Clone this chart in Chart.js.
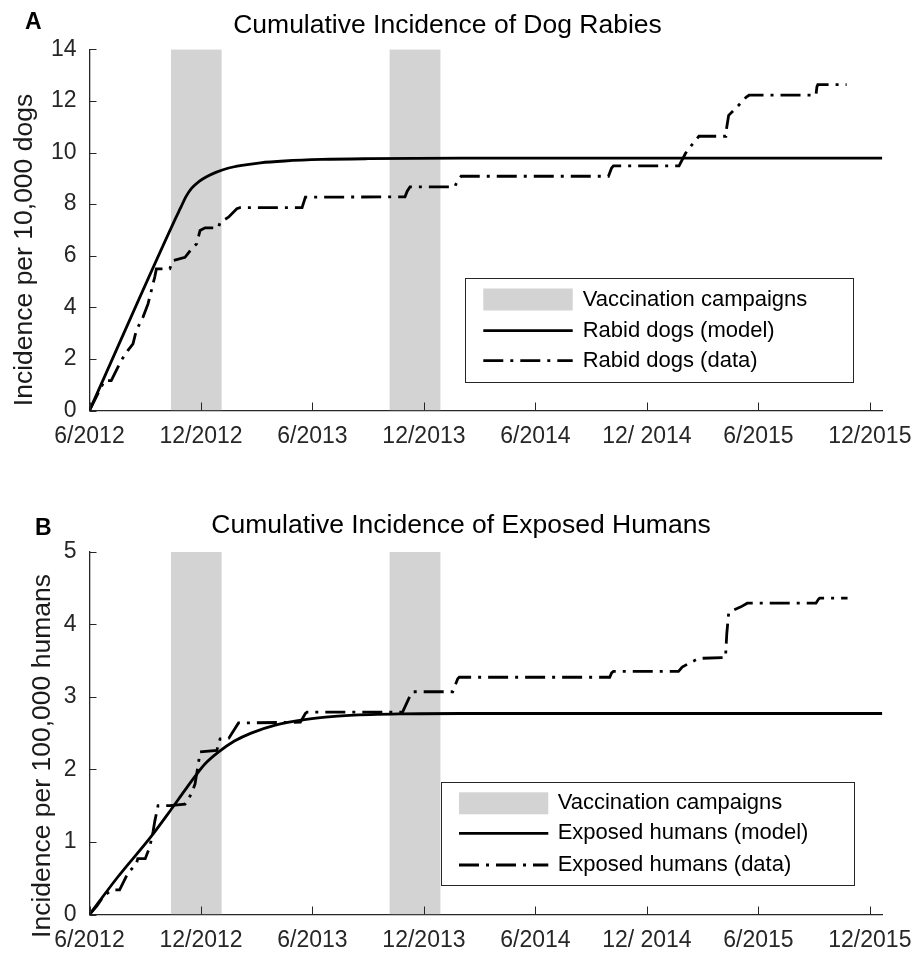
<!DOCTYPE html>
<html>
<head>
<meta charset="utf-8">
<script src="https://cdn.jsdelivr.net/npm/chart.js@4.4.1/dist/chart.umd.min.js"></script>
<style>
  html, body { margin: 0; padding: 0; background: #fff; }
  .panel { position: relative; width: 913px; }
  #wrapA { height: 480px; }
  #wrapB { height: 478px; }
</style>
</head>
<body>
<div class="panel" id="wrapA"><canvas id="chartA"></canvas></div>
<div class="panel" id="wrapB"><canvas id="chartB"></canvas></div>
<script>
// x values are months counted from June 2012
const monthTicks = [0, 6, 12, 18, 24, 30, 36, 42];
const monthLabels = ['6/2012', '12/2012', '6/2013', '12/2013', '6/2014', '12/ 2014', '6/2015', '12/2015'];
const campaigns = [[4.38, 7.12], [16.14, 18.9]];

// panel A: rabid dogs per 10,000 dogs
const dogTicks = [0, 2, 4, 6, 8, 10, 12, 14];
const dogModel = [
  [0, 0], [4.6, 7.4], [4.9, 7.85], [5.2, 8.3], [5.5, 8.62], [5.9, 8.88], [6.3, 9.06],
  [6.8, 9.23], [7.4, 9.38], [8.2, 9.5], [9.2, 9.6], [10.5, 9.67], [12.5, 9.73],
  [15, 9.76], [20, 9.78], [30, 9.78], [42.67, 9.78]
];
const dogData = [
  [0, 0], [0.54, 0.78], [0.81, 1.16], [1.17, 1.16], [1.53, 1.68], [1.71, 1.94],
  [2.07, 2.33], [2.34, 2.58], [2.52, 3.1], [2.88, 3.62], [3.15, 4.13], [3.33, 4.65],
  [3.51, 5.17], [3.6, 5.49], [4.32, 5.49], [4.5, 5.81], [5.14, 5.94], [5.5, 6.27],
  [5.77, 6.46], [5.95, 6.98], [6.22, 7.08], [6.94, 7.08], [7.03, 7.3], [7.48, 7.49],
  [7.93, 7.82], [8.1, 7.86], [11.44, 7.86], [11.62, 8.27], [16.98, 8.28], [17.1, 8.5],
  [17.25, 8.67], [19.66, 8.67], [19.8, 8.9], [20.0, 9.08], [27.93, 9.08], [28.1, 9.4],
  [28.2, 9.48], [31.73, 9.48], [32.08, 9.97], [32.4, 10.28], [32.8, 10.63], [34.25, 10.63],
  [34.3, 10.99], [34.4, 11.44], [34.86, 11.77], [35.2, 12.03], [35.35, 12.15], [35.5, 12.22],
  [39.1, 12.22], [39.15, 12.54], [39.2, 12.63], [40.75, 12.63]
];

// panel B: exposed humans per 100,000 humans
const humanTicks = [0, 1, 2, 3, 4, 5];
const humanModel = [
  [0, 0], [1.5, 0.51], [3.3, 1.07], [4.4, 1.45], [5.1, 1.7], [5.7, 1.91], [6.2, 2.07],
  [6.9, 2.23], [7.8, 2.39], [8.7, 2.5], [10, 2.61], [11.4, 2.68], [12.7, 2.72],
  [14, 2.745], [16.8, 2.765], [20, 2.77], [30, 2.77], [42.67, 2.77]
];
const humanData = [
  [0, 0], [0.4, 0.12], [0.81, 0.27], [1.26, 0.34], [1.62, 0.34], [2.07, 0.57], [2.52, 0.7],
  [2.6, 0.77], [3.0, 0.77], [3.24, 0.93], [3.42, 1.14], [3.51, 1.28], [3.6, 1.39],
  [3.69, 1.5], [4.32, 1.5], [5.14, 1.52], [5.5, 1.67], [5.68, 1.8], [5.86, 2.08],
  [5.95, 2.24], [6.85, 2.26], [7.03, 2.42], [7.5, 2.43], [8.02, 2.64], [11.35, 2.65],
  [11.62, 2.77], [11.71, 2.79], [16.85, 2.79], [17.3, 3.04], [17.4, 3.07], [19.55, 3.07],
  [19.82, 3.25], [19.9, 3.27], [28.0, 3.27], [28.1, 3.33], [28.2, 3.35], [31.7, 3.35],
  [31.9, 3.41], [32.25, 3.46], [32.8, 3.53], [34.23, 3.54], [34.3, 3.87], [34.4, 4.15],
  [34.7, 4.2], [35.06, 4.24], [35.4, 4.29], [39.1, 4.29], [39.25, 4.35], [39.3, 4.36],
  [40.8, 4.36]
];

const FONT = '"Liberation Sans", Arial, Helvetica, sans-serif';
const AXIS = '#262626';
const BAND = '#d3d3d3';
const DASH = [20, 7, 3, 7];
const LINE_W = 2.8;

const toXY = pts => pts.map(([x, y]) => ({ x, y }));

// titles, rotated y label, inward tick marks and boxed legend
const panelDecor = {
  id: 'panelDecor',
  afterDraw(chart, args, o) {
    const { ctx, chartArea } = chart;
    const xs = chart.scales.x, ys = chart.scales.y;
    ctx.save();

    // tick marks pointing into the plot
    ctx.strokeStyle = AXIS;
    ctx.lineWidth = 1;
    ctx.beginPath();
    xs.ticks.forEach(t => {
      const px = Math.round(xs.getPixelForValue(t.value)) + 0.5;
      ctx.moveTo(px, chartArea.bottom);
      ctx.lineTo(px, chartArea.bottom - 8);
    });
    ys.ticks.forEach(t => {
      const py = Math.round(ys.getPixelForValue(t.value)) + 0.5;
      ctx.moveTo(chartArea.left, py);
      ctx.lineTo(chartArea.left + 7, py);
    });
    ctx.stroke();

    // title and panel letter
    ctx.fillStyle = '#000';
    ctx.textBaseline = 'alphabetic';
    ctx.textAlign = 'center';
    ctx.font = '26.5px ' + FONT;
    ctx.fillText(o.title, o.titleX, o.titleY);
    ctx.textAlign = 'left';
    ctx.font = 'bold 23px ' + FONT;
    ctx.fillText(o.letter, o.letterX, o.letterY);

    // y axis label
    ctx.save();
    ctx.translate(o.yTitleX, o.yTitleY);
    ctx.rotate(-Math.PI / 2);
    ctx.textAlign = 'center';
    ctx.fillStyle = '#1a1a1a';
    ctx.font = '26.5px ' + FONT;
    ctx.fillText(o.yTitle, 0, 0);
    ctx.restore();

    // legend box
    const lg = o.legend;
    ctx.fillStyle = '#fff';
    ctx.fillRect(lg.left, lg.top, lg.right - lg.left, lg.bottom - lg.top);
    ctx.strokeStyle = AXIS;
    ctx.lineWidth = 1;
    ctx.strokeRect(Math.round(lg.left) + 0.5, Math.round(lg.top) + 0.5,
      Math.round(lg.right - lg.left), Math.round(lg.bottom - lg.top));

    const seen = [];
    const entries = chart.data.datasets.filter(ds => {
      if (seen.includes(ds.label)) return false;
      seen.push(ds.label);
      return true;
    });
    ctx.font = '22px ' + FONT;
    ctx.textBaseline = 'middle';
    entries.forEach((ds, i) => {
      const cy = lg.rows[i];
      if (ds.fill) {
        ctx.fillStyle = ds.backgroundColor;
        ctx.fillRect(lg.swatchL, cy - 11, lg.swatchR - lg.swatchL, 22);
      } else {
        ctx.strokeStyle = ds.borderColor;
        ctx.lineWidth = ds.borderWidth;
        ctx.setLineDash(ds.borderDash || []);
        ctx.beginPath();
        ctx.moveTo(lg.swatchL, cy);
        ctx.lineTo(lg.swatchR, cy);
        ctx.stroke();
        ctx.setLineDash([]);
      }
      ctx.fillStyle = '#000';
      ctx.fillText(ds.label, lg.textX, cy);
    });
    ctx.restore();
  }
};

function bandSets(yMax) {
  return campaigns.map(([a, b]) => ({
    label: 'Vaccination campaigns',
    data: [{ x: a, y: yMax }, { x: b, y: yMax }],
    fill: 'origin',
    backgroundColor: BAND,
    borderColor: 'transparent',
    borderWidth: 0,
    pointRadius: 0,
    order: 5
  }));
}

function buildChart(id, cfg) {
  const yMax = cfg.yTicks[cfg.yTicks.length - 1];
  return new Chart(document.getElementById(id), {
    type: 'line',
    data: {
      datasets: [
        ...bandSets(yMax),
        {
          label: cfg.modelLabel,
          data: toXY(cfg.model),
          borderColor: '#000',
          borderWidth: LINE_W,
          pointRadius: 0,
          fill: false,
          cubicInterpolationMode: 'monotone',
          order: 2
        },
        {
          label: cfg.dataLabel,
          data: toXY(cfg.data),
          borderColor: '#000',
          borderWidth: LINE_W,
          borderDash: DASH,
          pointRadius: 0,
          fill: false,
          tension: 0,
          order: 1
        }
      ]
    },
    options: {
      responsive: true,
      maintainAspectRatio: false,
      animation: false,
      events: [],
      layout: { padding: { top: cfg.plotTop, right: 30.7, left: 0, bottom: 0 } },
      scales: {
        x: {
          type: 'linear',
          min: 0,
          max: 42.67,
          grid: { display: false, drawTicks: false },
          border: { display: true, color: AXIS, width: 1.3 },
          afterBuildTicks: s => { s.ticks = monthTicks.map(v => ({ value: v })); },
          afterFit: s => { s.height = cfg.xHeight; s.paddingLeft = 0; s.paddingRight = 0; },
          ticks: {
            autoSkip: false,
            maxRotation: 0,
            padding: 12,
            color: AXIS,
            font: { family: FONT, size: 23 },
            callback: v => monthLabels[monthTicks.indexOf(v)]
          }
        },
        y: {
          min: 0,
          max: yMax,
          grid: { display: false, drawTicks: false },
          border: { display: true, color: AXIS, width: 1.3 },
          afterBuildTicks: s => { s.ticks = cfg.yTicks.map(v => ({ value: v })); },
          afterFit: s => { s.width = 89.5; s.paddingTop = 0; s.paddingBottom = 0; },
          ticks: {
            padding: 13,
            color: AXIS,
            font: { family: FONT, size: 23 }
          }
        }
      },
      plugins: {
        legend: { display: false },
        tooltip: { enabled: false },
        panelDecor: cfg.decor
      }
    },
    plugins: [panelDecor]
  });
}

buildChart('chartA', {
  yTicks: dogTicks,
  model: dogModel,
  data: dogData,
  modelLabel: 'Rabid dogs (model)',
  dataLabel: 'Rabid dogs (data)',
  plotTop: 49.3,
  xHeight: 69.5,
  decor: {
    title: 'Cumulative Incidence of Dog Rabies', titleX: 447.5, titleY: 33,
    letter: 'A', letterX: 25, letterY: 28.5,
    yTitle: 'Incidence per 10,000 dogs', yTitleX: 32.3, yTitleY: 250,
    legend: {
      left: 465, top: 278.3, right: 853.3, bottom: 382.3,
      swatchL: 483.3, swatchR: 572.7, textX: 582.7,
      rows: [299.5, 330.7, 360.7]
    }
  }
});

buildChart('chartB', {
  yTicks: humanTicks,
  model: humanModel,
  data: humanData,
  modelLabel: 'Exposed humans (model)',
  dataLabel: 'Exposed humans (data)',
  plotTop: 71.7,
  xHeight: 43.5,
  decor: {
    title: 'Cumulative Incidence of Exposed Humans', titleX: 461, titleY: 53,
    letter: 'B', letterX: 35, letterY: 55,
    yTitle: 'Incidence per 100,000 humans', yTitleX: 50, yTitleY: 276,
    legend: {
      left: 440.7, top: 301.7, right: 853.3, bottom: 405,
      swatchL: 459, swatchR: 548.3, textX: 557.7,
      rows: [323.3, 353.3, 385]
    }
  }
});
</script>
</body>
</html>
